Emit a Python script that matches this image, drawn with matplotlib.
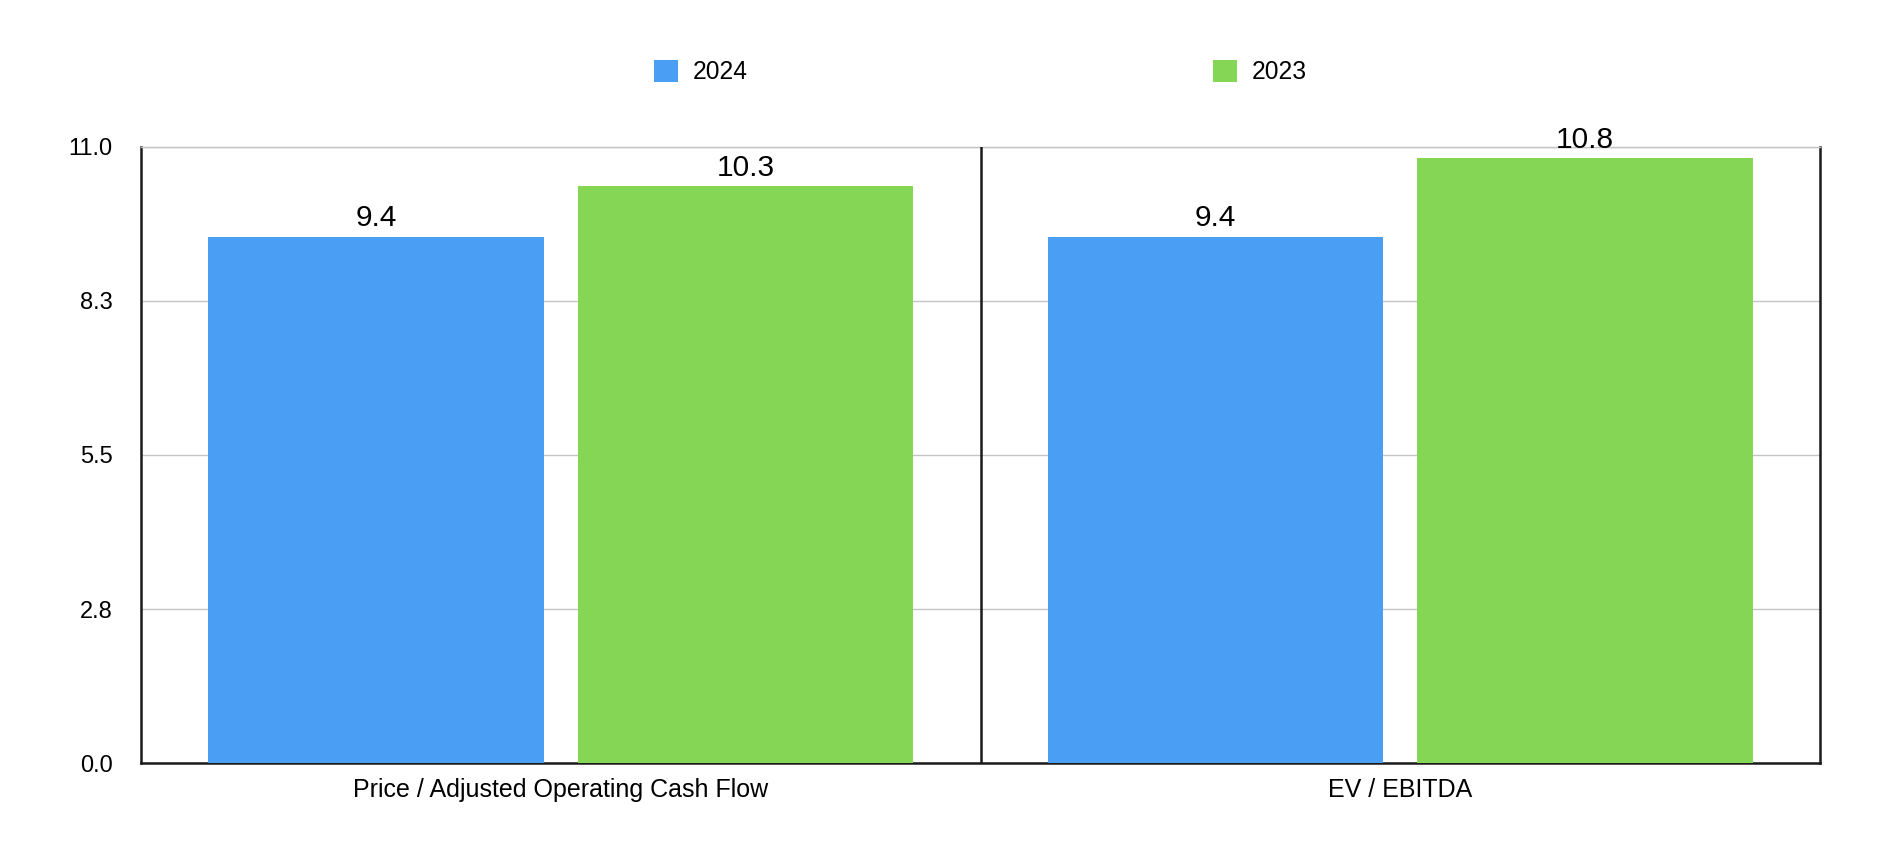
import matplotlib
matplotlib.use("Agg")
import matplotlib.pyplot as plt
import numpy as np

plt.rcParams['font.family'] = ['Liberation Sans', 'DejaVu Sans']

# data
categories = ["Price / Adjusted Operating Cash Flow", "EV / EBITDA"]
series_names = ["2024", "2023"]
values_2024 = [9.4, 9.4]
values_2023 = [10.3, 10.8]
y_ticks = [0.0, 2.75, 5.5, 8.25, 11.0]
y_tick_labels = ["0.0", "2.8", "5.5", "8.3", "11.0"]

blue = "#4A9FF5"
green = "#84D654"

fig = plt.figure(figsize=(18.98, 8.58), dpi=100)
ax = fig.add_axes([0.0743, 0.1107, 0.9589 - 0.0743, 0.8287 - 0.1107])

x = np.arange(len(categories))
w = 0.4
off = 0.22
b1 = ax.bar(x - off, values_2024, width=w, color=blue, label=series_names[0], zorder=3)
b2 = ax.bar(x + off, values_2023, width=w, color=green, label=series_names[1], zorder=3)

# value labels above bars
for bars, vals in [(b1, values_2024), (b2, values_2023)]:
    for rect, v in zip(bars, vals):
        ax.annotate("%.1f" % v, (rect.get_x() + rect.get_width() / 2, rect.get_height()),
                    xytext=(0, 7.4), textcoords="offset points",
                    ha="center", va="baseline", fontsize=21.5, color="black")

ax.set_xlim(-0.5, len(categories) - 0.5)
ax.set_ylim(0, 11.0)
ax.set_yticks(y_ticks)
ax.set_yticklabels(y_tick_labels, fontsize=17)
ax.set_xticks(x)
ax.set_xticklabels(categories, fontsize=18)
ax.tick_params(axis="y", length=0, pad=20.4)
ax.tick_params(axis="x", length=0, pad=11)

ax.yaxis.grid(True, color="#C4C4C4", linewidth=1, zorder=0)
ax.set_axisbelow(True)

# category divider
for i in range(len(categories) - 1):
    ax.axvline(i + 0.5, color="#1a1a1a", linewidth=1.8, zorder=4)

for s in ["left", "right", "bottom"]:
    ax.spines[s].set_color("#1a1a1a")
    ax.spines[s].set_linewidth(1.8)
ax.spines["top"].set_color("#C4C4C4")
ax.spines["top"].set_linewidth(1)

fig.legend(handles=[b1, b2], loc="center", bbox_to_anchor=(0.5165, 0.916), ncol=2,
           frameon=False, fontsize=17.7, handlelength=0.98, handleheight=0.98,
           handletextpad=0.6, columnspacing=18.9, borderpad=0)

fig.savefig("out.png", dpi=100, facecolor="white")
